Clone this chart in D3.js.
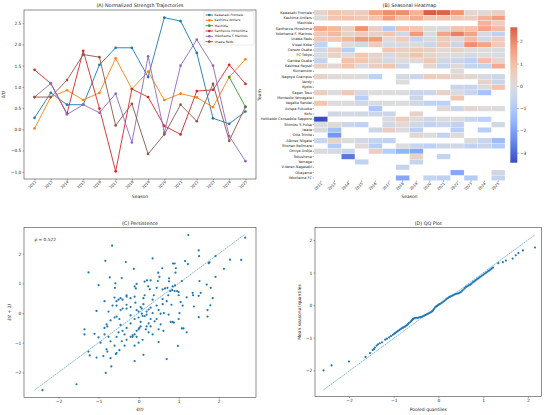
<!DOCTYPE html>
<html><head><meta charset="utf-8">
<script src="https://cdn.jsdelivr.net/npm/d3@7"></script>
<style>body{margin:0;background:#fff} svg text{font-family:"DejaVu Sans",sans-serif}</style>
</head><body><svg id="c" width="550" height="415"></svg>
<script>
const seasons = [2012,2013,2014,2015,2016,2017,2018,2019,2020,2021,2022,2023,2024,2025];
const teams = ["Kawasaki Frontale","Kashima Antlers","Machida","Sanfrecce Hiroshima","Yokohama F. Marinos","Urawa Reds","Vissel Kobe","Cerezo Osaka","FC Tokyo","Gamba Osaka","Kashiwa Reysol","Kumamoto","Nagoya Grampus","Verdy","Kyoto","Sagan Tosu","Montedio Yamagata","Vegalta Sendai","Avispa Fukuoka","Kofu","Hokkaido Consadole Sapporo","Shimizu S-Pulse","Iwata","Oita Trinita","Albirex Niigata","Shonan Bellmare","Omiya Ardija","Tokushima","Yamaga","V-Varen Nagasaki","Okayama","Yokohama FC"];
const N = null;
const strength = [
 [0.27,0.86,0.58,0.58,1.52,1.92,1.92,1.23,2.63,2.55,1.80,0.26,0.13,0.42],
 [0.02,0.76,0.92,0.69,0.86,1.67,0.95,1.36,0.69,0.84,0.75,0.52,1.23,1.65],
 [N,N,N,N,N,N,N,N,N,N,N,N,1.23,0.53],
 [1.40,1.08,0.37,1.85,0.49,-0.99,0.95,0.76,0.08,-0.12,0.90,0.93,1.52,1.07],
 [0.76,1.08,0.35,0.58,0.39,0.84,-0.31,1.72,-0.08,1.50,2.11,1.50,-0.16,-0.75],
 [0.76,0.76,1.16,1.76,1.70,0.09,0.60,-0.58,-0.12,0.58,0.19,1.07,-0.27,0.53],
 [-0.6,N,0.0,-0.3,0.6,-0.2,-0.1,0.0,-0.4,0.7,-0.4,1.9,1.5,0.6],
 [-0.3,0.5,-0.9,N,N,0.8,0.5,0.7,0.5,0.1,0.4,0.1,0.0,-0.1],
 [0.0,0.4,0.1,0.8,0.3,-0.2,0.4,0.9,0.3,0.1,0.0,-0.2,0.0,-0.1],
 [-0.6,N,0.9,0.8,0.4,-0.2,0.0,0.1,0.7,-0.3,-0.4,-0.8,1.0,0.2],
 [0.4,0.2,0.9,-0.1,0.5,0.8,-0.4,N,0.2,-0.5,0.1,-0.6,-0.6,1.4],
 [N,N,N,N,N,N,N,N,N,N,0.05,N,N,N],
 [0.4,0.1,0.1,0.0,-0.8,N,-0.2,-0.4,0.6,0.5,0.3,0.2,-0.2,-0.4],
 [N,N,N,N,N,N,0.0,N,N,N,N,N,0.4,-0.5],
 [N,N,N,N,N,N,N,N,N,N,-0.5,-0.5,-0.1,0.9],
 [0.5,0.0,0.7,-0.2,0.0,0.0,-0.1,-0.5,-0.4,0.4,-0.1,-0.5,-1.2,N],
 [N,N,N,-0.9,N,N,N,-0.4,N,N,0.8,N,N,N],
 [0.8,0.0,0.0,-0.3,-0.1,-0.1,0.0,-0.3,-0.7,-0.8,N,N,N,N],
 [N,N,N,N,-1.1,N,N,N,N,0.1,-0.4,0.2,0.1,-0.1],
 [N,-0.3,-0.2,-0.3,-0.4,-0.4,N,0.4,N,N,N,N,N,N],
 [-3.45,N,N,N,N,-0.1,0.6,0.0,-0.3,-0.1,0.0,-0.4,-0.8,N],
 [0.0,0.1,-0.4,-0.7,N,-0.3,0.1,-0.3,-0.7,-0.5,-0.7,N,N,-0.3],
 [-0.1,-1.3,N,N,-0.4,0.5,0.0,-0.8,N,N,-0.9,N,-0.9,N],
 [N,-2.2,N,N,N,N,N,0.2,0.0,-0.6,0.1,N,N,N],
 [-0.4,0.3,0.0,-0.3,-0.6,-0.7,N,N,N,N,N,0.0,-0.5,-1.4],
 [N,-1.0,N,0.1,-0.9,N,0.0,-0.5,-0.8,-0.4,-0.3,-0.7,-0.5,-1.0],
 [-0.1,-0.2,-0.5,N,0.5,-0.9,-1.6,-1.9,N,N,N,N,N,N],
 [N,N,-2.8,N,N,N,N,0.4,N,-0.6,N,N,N,N],
 [N,N,N,-0.7,N,N,N,-0.5,N,N,N,N,N,N],
 [N,N,N,N,N,N,-0.6,N,N,N,N,N,N,N],
 [N,N,N,N,N,N,N,N,N,N,-1.9,N,N,-0.3],
 [N,N,N,N,N,N,-1.9,N,-0.6,-0.8,N,-1.0,N,-0.6]
];
const lineTeams = ["Kawasaki Frontale","Kashima Antlers","Machida","Sanfrecce Hiroshima","Yokohama F. Marinos","Urawa Reds"];
const lineColors = ["#1f77b4","#ff7f0e","#2ca02c","#d62728","#9467bd","#8c564b"];
const persistPairs = [
[1.24,2.63],[-0.66,2.27],[1.5,2.11],[2.66,2.54],[1.51,1.92],[0.35,1.84],[-0.83,1.76],[-0.32,1.72],[1.16,1.75],[1.77,1.71],[1.75,1.68],[2.28,1.8],[2.56,1.79],[1.92,1.92],[0.86,1.67],[1.23,1.65],[2.13,1.49],[-0.12,1.49],[0.59,1.51],[0.93,1.51],[-1.25,1.37],[0.49,1.36],[0.92,1.36],[-0.42,1.18],[-0.72,1.2],[0.52,1.22],[1.92,1.22],[-1.0,0.94],[-0.58,1.0],[-0.59,0.85],[0.15,1.06],[0.21,1.1],[0.48,1.08],[0.76,1.17],[0.76,1.07],[1.08,1.08],[1.52,1.08],[1.7,0.96],[1.8,0.85],[0.85,0.9],[0.91,0.93],[0.24,0.9],[-0.1,0.9],[-0.07,0.83],[0.28,0.8],[0.45,0.85],[0.66,0.83],[0.72,0.85],[0.79,0.74],[0.84,0.77],[0.9,0.74],[0.96,0.74],[1.0,0.71],[1.35,0.68],[1.36,0.6],[1.0,0.6],[0.74,0.6],[0.6,0.47],[1.2,0.53],[1.5,0.58],[1.85,0.5],[1.79,0.26],[1.72,0.1],[1.72,-0.12],[1.5,-0.14],[1.38,0.22],[1.1,0.25],[1.05,0.37],[0.82,0.28],[0.7,0.4],[0.6,0.3],[0.5,0.1],[0.55,-0.02],[0.63,0.0],[0.75,-0.05],[0.8,-0.3],[0.85,-0.3],[0.88,-0.32],[1.0,-0.2],[1.02,0.0],[1.08,-0.52],[1.12,-0.52],[1.2,-0.65],[0.98,-1.11],[0.7,-1.55],[0.62,-0.6],[0.5,-0.55],[0.55,-0.38],[0.4,-0.28],[0.45,-0.2],[0.3,-0.45],[0.25,-0.35],[0.5,-0.98],[0.35,-0.72],[0.25,-0.65],[0.1,-0.9],[0.12,-1.41],[-0.1,-1.62],[0.0,-1.0],[-0.05,-0.8],[-0.15,-0.75],[-0.2,-0.8],[-0.1,-0.72],[-0.05,-0.6],[0.0,-0.55],[0.02,-0.5],[0.05,-0.45],[0.1,-0.1],[0.15,-0.1],[0.2,-0.05],[0.2,0.05],[0.25,0.12],[0.3,0.18],[0.08,0.15],[0.05,0.2],[-0.05,0.1],[0.0,0.05],[0.08,-0.02],[0.12,0.3],[0.12,0.5],[0.15,0.6],[-0.1,0.55],[-0.2,0.5],[-0.08,0.35],[0.38,0.6],[0.35,0.45],[0.45,0.25],[-0.3,0.6],[-0.3,0.55],[-0.4,0.45],[-0.5,0.45],[-0.45,0.5],[-0.55,0.4],[-0.6,0.52],[-0.2,0.2],[-0.3,0.15],[-0.4,0.15],[-0.45,0.1],[-0.55,0.25],[-0.65,0.25],[-0.55,-0.12],[-0.48,-0.2],[-0.6,-0.15],[-0.85,0.4],[-0.75,0.05],[-1.05,0.07],[-0.8,-0.38],[-0.85,-0.5],[-0.78,-0.45],[-0.7,-0.25],[-0.45,-0.4],[-0.4,-0.6],[-0.3,-0.5],[-0.2,-0.35],[-0.5,-0.65],[-0.55,-0.8],[-0.35,-0.72],[-0.3,-0.9],[-0.42,-0.95],[-0.7,-0.95],[-0.75,-0.8],[-0.85,-0.72],[-1.1,-0.7],[-1.35,-0.55],[-1.35,-0.72],[-1.0,-0.82],[-0.95,-1.0],[-0.6,-1.1],[-0.8,-1.22],[-0.78,-1.3],[-0.55,-1.35],[-0.57,-1.38],[-0.48,-1.25],[-0.35,-1.1],[-0.1,-1.1],[-0.15,-0.8],[-1.25,-1.3],[-1.22,-1.43],[-1.05,-1.5],[-0.88,-1.45],[-0.7,-1.52],[-0.68,-1.8],[-0.82,-2.02],[-1.55,-2.4],[-2.4,-2.6],[0.2,-0.45],[0.18,-0.55],[0.3,-0.2],[0.35,0.0],[-0.1,-0.2],[-0.2,-0.08],[0.0,-0.15],[0.05,-0.3],[-0.3,0.28],[0.6,0.8],[0.3,1.1],[-0.05,0.98],[1.55,0.68],[0.9,1.67]
];
const rhoLabel = "ρ = 0.522";
const qqPooled = [-2.57,-2.39,-2.0,-1.63,-1.53,-1.47,-1.44,-1.42,-1.38,-1.35,-1.31,-1.26,-1.19,-1.15,-1.10,-1.06,-1.02,-0.99,
 -0.97,-0.94,-0.91,-0.88,-0.86,-0.83,-0.80,-0.78,-0.75,-0.73,-0.70,-0.68,-0.66,-0.63,-0.61,-0.59,-0.57,-0.55,-0.53,-0.50,-0.47,-0.44,-0.41,-0.38,-0.35,-0.32,-0.29,-0.26,-0.23,-0.20,-0.17,-0.14,-0.12,-0.10,-0.08,-0.06,-0.04,-0.02,
 0.00,0.02,0.05,0.08,0.11,0.14,0.17,0.20,0.23,0.26,0.29,0.32,0.35,0.38,0.41,0.44,0.47,0.50,0.53,0.56,0.59,0.62,0.65,0.68,0.71,0.74,0.77,0.80,0.83,0.86,0.89,0.92,0.95,0.98,1.01,1.04,1.07,1.10,1.13,1.16,1.19,1.22,
 1.34,1.44,1.51,1.66,1.73,1.79,1.89,2.16];
const qqMean = [-2.0,-1.85,-1.73,-1.59,-1.47,-1.38,-1.35,-1.30,-1.24,-1.20,-1.17,-1.14,-1.06,-1.03,-0.99,-0.95,-0.91,-0.88,
 -0.86,-0.83,-0.80,-0.77,-0.75,-0.72,-0.70,-0.68,-0.66,-0.64,-0.61,-0.58,-0.55,-0.52,-0.49,-0.46,-0.43,-0.41,-0.40,-0.39,-0.39,-0.38,-0.37,-0.36,-0.34,-0.32,-0.30,-0.28,-0.26,-0.24,-0.22,-0.19,-0.16,-0.12,-0.08,-0.05,-0.03,-0.01,
 0.01,0.03,0.05,0.08,0.11,0.14,0.18,0.21,0.24,0.26,0.28,0.30,0.32,0.34,0.35,0.36,0.38,0.40,0.44,0.48,0.52,0.56,0.58,0.61,0.63,0.66,0.70,0.73,0.76,0.79,0.82,0.85,0.88,0.91,0.94,0.97,1.00,1.03,1.06,1.09,1.12,1.15,
 1.29,1.32,1.37,1.43,1.53,1.60,1.68,1.77];

const svg = d3.select("#c");
const FONT = "DejaVu Sans";
const TICKF = 4.4;
const minus = v => String(v).replace("-", "\u2212");

function styleAxis(g){
  g.select(".domain").remove();
  g.attr("font-family", FONT);
  g.selectAll("text").attr("font-size", TICKF).attr("fill", "#222");
  g.selectAll("line").attr("stroke", "#333").attr("stroke-width", 0.45);
}
function frame(x0,x1,y0,y1){
  svg.append("rect").attr("x",x0).attr("y",y0).attr("width",x1-x0).attr("height",y1-y0)
    .attr("fill","none").attr("stroke","#333").attr("stroke-width",0.55);
}
function label(txt,x,y,size,rot,anchor){
  const t = svg.append("text").attr("font-size",size).attr("fill","#222")
    .attr("text-anchor",anchor||"middle").text(txt);
  if(rot) t.attr("transform",`translate(${x},${y}) rotate(${rot})`);
  else t.attr("x",x).attr("y",y);
  return t;
}

// ---------- Panel A ----------
const xA = d3.scaleLinear().domain([2011.35,2025.65]).range([24,256]);
const yA = d3.scaleLinear().domain([-1.17,2.81]).range([179,10]);
const gAx = svg.append("g").attr("transform","translate(0,179)")
  .call(d3.axisBottom(xA).tickValues(seasons).tickFormat(d3.format("d")).tickSize(1.4).tickPadding(1));
styleAxis(gAx);
gAx.selectAll("text").attr("text-anchor","end").attr("dy",0)
  .attr("transform","translate(1.5,3.2) rotate(-45)").attr("y",0).attr("x",0).attr("font-size",3.7);
const gAy = svg.append("g").attr("transform","translate(24,0)")
  .call(d3.axisLeft(yA).tickValues([-1,-0.5,0,0.5,1,1.5,2,2.5]).tickFormat(d=>minus(d3.format(".1f")(d))).tickSize(1.4).tickPadding(1.2));
styleAxis(gAy);

const line = d3.line().defined(d=>d.v!==null).x(d=>xA(d.s)).y(d=>yA(d.v));
lineTeams.forEach((tm,i)=>{
  const row = strength[teams.indexOf(tm)].map((v,j)=>({s:seasons[j],v}));
  svg.append("path").datum(row).attr("d",line).attr("fill","none")
    .attr("stroke",lineColors[i]).attr("stroke-width",0.9);
  svg.append("g").selectAll("circle").data(row.filter(d=>d.v!==null)).join("circle")
    .attr("cx",d=>xA(d.s)).attr("cy",d=>yA(d.v)).attr("r",1.35).attr("fill",lineColors[i]);
});
frame(24,256,10,179);
// legend
const lg = svg.append("g");
lg.append("rect").attr("x",204).attr("y",11.5).attr("width",50).attr("height",33.5).attr("rx",0.8)
  .attr("fill","#fff").attr("fill-opacity",0.85).attr("stroke","#ccc").attr("stroke-width",0.4);
lineTeams.forEach((tm,i)=>{
  const y = 15 + i*5.33;
  lg.append("line").attr("x1",205.5).attr("x2",213).attr("y1",y).attr("y2",y).attr("stroke",lineColors[i]).attr("stroke-width",0.9);
  lg.append("circle").attr("cx",209.3).attr("cy",y).attr("r",1.3).attr("fill",lineColors[i]);
  lg.append("text").attr("x",214.5).attr("y",y+1.1).attr("font-size",3.2).attr("fill","#222").text(tm);
});
label("(A) Normalized Strength Trajectories",140,7.4,4.8);
label("Season",140,197.8,4.5);
label("ŝ(t)",5,94.5,4.5,-90).attr("font-style","italic");

// ---------- Panel B heatmap ----------
const xH = d3.scaleBand().domain(seasons).range([314,505]);
const yH = d3.scaleBand().domain(teams).range([10,180.6]);
const vmin = -3.45, vmax = 2.63, vr = Math.max(-vmin, vmax);
const coolwarm = d3.piecewise(d3.interpolateRgb, ["#3a4cc0","#6282ea","#8db0fe","#b8d0f9","#dddcdc","#f5c4ad","#f49a7b","#de604d","#b40426"]);
const col = v => coolwarm(0.5 + v/(2*vr));
const cells = [];
strength.forEach((row,i)=>row.forEach((v,j)=>{ if(v!==null) cells.push({t:teams[i],s:seasons[j],v}); }));
svg.append("g").selectAll("rect").data(cells).join("rect")
  .attr("x",d=>xH(d.s)).attr("y",d=>yH(d.t)).attr("width",xH.bandwidth()).attr("height",yH.bandwidth())
  .attr("fill",d=>col(d.v)).attr("stroke","#fff").attr("stroke-width",0.25);
const gHy = svg.append("g").attr("transform","translate(314,0)")
  .call(d3.axisLeft(yH).tickSize(1.3).tickPadding(0.8));
styleAxis(gHy);
gHy.selectAll("text").attr("font-size",3.5);
const gHx = svg.append("g").attr("transform","translate(0,180.6)")
  .call(d3.axisBottom(xH).tickFormat(d3.format("d")).tickSize(1.3).tickPadding(1));
styleAxis(gHx);
gHx.selectAll("text").attr("text-anchor","end").attr("dy",0).attr("y",0).attr("x",0)
  .attr("transform","translate(1.5,3.3) rotate(-45)").attr("font-size",3.7);
label("(B) Seasonal Heatmap",409.5,7.4,4.8);
label("Season",409.5,197.8,4.5);
label("Team",261,95,4.5,-90);
// colorbar
const yCb = d3.scaleLinear().domain([vmin,vmax]).range([162.7,27.3]);
const defs = svg.append("defs");
const grad = defs.append("linearGradient").attr("id","cb").attr("x1",0).attr("x2",0).attr("y1",1).attr("y2",0);
d3.range(0,1.0001,0.05).forEach(t=>{
  grad.append("stop").attr("offset",t).attr("stop-color",col(vmin + t*(vmax-vmin)));
});
svg.append("rect").attr("x",510.3).attr("y",27.3).attr("width",7).attr("height",135.4).attr("fill","url(#cb)");
const gCb = svg.append("g").attr("transform","translate(517.3,0)")
  .call(d3.axisRight(yCb).tickValues([-3,-2,-1,0,1,2]).tickFormat(d=>minus(d)).tickSize(1.4).tickPadding(1.2));
styleAxis(gCb);

// ---------- Panel C ----------
const xC = d3.scaleLinear().domain([-2.86,2.93]).range([24,256]);
const yC = d3.scaleLinear().domain([-2.84,2.89]).range([397.3,227.3]);
const gCx = svg.append("g").attr("transform","translate(0,397.3)")
  .call(d3.axisBottom(xC).tickValues([-2,-1,0,1,2]).tickFormat(d=>minus(d)).tickSize(1.4).tickPadding(1.2));
styleAxis(gCx);
const gCy = svg.append("g").attr("transform","translate(24,0)")
  .call(d3.axisLeft(yC).tickValues([-2,-1,0,1,2]).tickFormat(d=>minus(d)).tickSize(1.4).tickPadding(1.2));
styleAxis(gCy);
const allP = persistPairs.flat();
const lo = d3.min(allP), hi = d3.max(allP);
svg.append("line").attr("x1",xC(lo)).attr("y1",yC(lo)).attr("x2",xC(hi)).attr("y2",yC(hi))
  .attr("stroke","#1f77b4").attr("stroke-width",0.55).attr("stroke-dasharray","1.6,0.7");
svg.append("g").selectAll("circle").data(persistPairs).join("circle")
  .attr("cx",d=>xC(d[0])).attr("cy",d=>yC(d[1])).attr("r",1.1).attr("fill","#1f77b4");
frame(24,256,227.3,397.3);
label(rhoLabel,34.5,240.8,4.3,0,"start");
label("(C) Persistence",140,224.9,4.8);
label("ŝ(t)",140,410.5,4.5).attr("font-style","italic");
label("ŝ(t + 1)",11,312.3,4.5,-90).attr("font-style","italic");

// ---------- Panel D ----------
const xD = d3.scaleLinear().domain([-2.76,2.31]).range([315,541.7]);
const yD = d3.scaleLinear().domain([-2.81,2.39]).range([396.7,227.3]);
const gDx = svg.append("g").attr("transform","translate(0,396.7)")
  .call(d3.axisBottom(xD).tickValues([-2,-1,0,1,2]).tickFormat(d=>minus(d)).tickSize(1.4).tickPadding(1.2));
styleAxis(gDx);
const gDy = svg.append("g").attr("transform","translate(315,0)")
  .call(d3.axisLeft(yD).tickValues([-2,-1,0,1,2]).tickFormat(d=>minus(d)).tickSize(1.4).tickPadding(1.2));
styleAxis(gDy);
const qlo = d3.min(qqPooled), qhi = d3.max(qqPooled);
svg.append("line").attr("x1",xD(qlo)).attr("y1",yD(qlo-0.03)).attr("x2",xD(qhi)).attr("y2",yD(qhi))
  .attr("stroke","#1f77b4").attr("stroke-width",0.55).attr("stroke-dasharray","1.6,0.7");
svg.append("g").selectAll("circle").data(qqPooled.map((x,i)=>[x,qqMean[i]])).join("circle")
  .attr("cx",d=>xD(d[0])).attr("cy",d=>yD(d[1])).attr("r",1.1).attr("fill","#1f77b4");
frame(315,541.7,227.3,396.7);
label("(D) QQ Plot",428.3,224.9,4.8);
label("Pooled quantiles",428.3,410.5,4.5);
label("Mean seasonal quantiles",300.7,312,4.5,-90);
</script></body></html>
